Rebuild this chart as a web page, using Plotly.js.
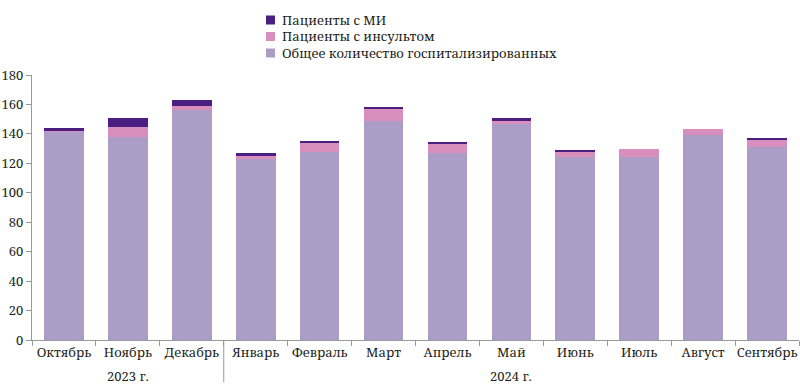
<!DOCTYPE html>
<html><head><meta charset="utf-8">
<script src="https://cdn.plot.ly/plotly-3.0.1.min.js"></script>
<style>html,body{margin:0;padding:0;background:#fff}#chart{width:800px;height:389px}</style>
</head><body><div id="chart"></div>
<script>
const months = ["Октябрь","Ноябрь","Декабрь","Январь","Февраль","Март","Апрель","Май","Июнь","Июль","Август","Сентябрь"];
const general = [141,138,156,123,128,149,127,147,124,124,139,131];
const stroke  = [1,7,3,2,6,8,6,2,4,6,4,5];
const mi      = [2,6,4,2,1,1,1.5,2,1,0,0,1.5];
const seriesNames = ["Общее количество госпитализированных","Пациенты с инсультом","Пациенты с МИ"];
const seriesColors = ["#ab9dc6","#d98fbd","#4b1f82"];
const yearLabels = ["2023 г.","2024 г."];
const yearCenters = [1,7];

const font = "'Noto Serif', 'Liberation Serif', serif";
const W = 800, H = 389, M = {l:32, r:1, t:75, b:49};
const pw = W - M.l - M.r, ph = H - M.t - M.b;
const px2x = p => (p - M.l) / pw;
const py2y = p => (H - M.b - p) / ph;

const data = [general, stroke, mi];
const traces = data.map((y,i)=>({type:"bar", name:seriesNames[i], x:months, y:y,
  marker:{color:seriesColors[i]}, showlegend:false}));

// custom legend (top to bottom: MI, stroke, general)
const legendRows = [20, 36.5, 53];
const legendOrder = [2,1,0];
const shapes = [{type:"line", xref:"x", yref:"paper", x0:2.5, x1:2.5, y0:0, y1:-0.16,
           line:{color:"#999", width:1}}];
const annotations = yearLabels.map((t,i)=>({text:t, xref:"x", yref:"paper", x:yearCenters[i], y:-0.135,
           xanchor:"center", yanchor:"middle", showarrow:false, font:{family:font, size:13, color:"#231f20"}}));
legendOrder.forEach((si,r)=>{
  const cy = legendRows[r];
  shapes.push({type:"rect", xref:"paper", yref:"paper", x0:px2x(266), x1:px2x(275),
    y0:py2y(cy+4.5), y1:py2y(cy-4.5), fillcolor:seriesColors[si], line:{width:0}});
  annotations.push({text:seriesNames[si], xref:"paper", yref:"paper", x:px2x(281), y:py2y(cy),
    xanchor:"left", yanchor:"middle", height:16, borderpad:0, showarrow:false,
    font:{family:font, size:13, color:"#231f20"}});
});

const layout = {
  width:W, height:H, margin:M,
  barmode:"stack", bargap:0.38,
  paper_bgcolor:"#fff", plot_bgcolor:"#fff",
  font:{family:font, size:13, color:"#231f20"},
  showlegend:false,
  xaxis:{type:"category", showline:true, linecolor:"#999", linewidth:1,
         ticks:"outside", tickson:"boundaries", ticklen:5, tickcolor:"#999",
         showgrid:false, tickangle:0, tickfont:{family:font, size:13, color:"#231f20"}},
  yaxis:{range:[0,180], dtick:20, showline:true, linecolor:"#999", linewidth:1,
         ticks:"outside", ticklen:5, tickcolor:"#999", showgrid:false, zeroline:false,
         tickfont:{family:font, size:13, color:"#231f20"}},
  shapes: shapes,
  annotations: annotations
};
Plotly.newPlot("chart", traces, layout, {displayModeBar:false, staticPlot:true});
</script></body></html>
